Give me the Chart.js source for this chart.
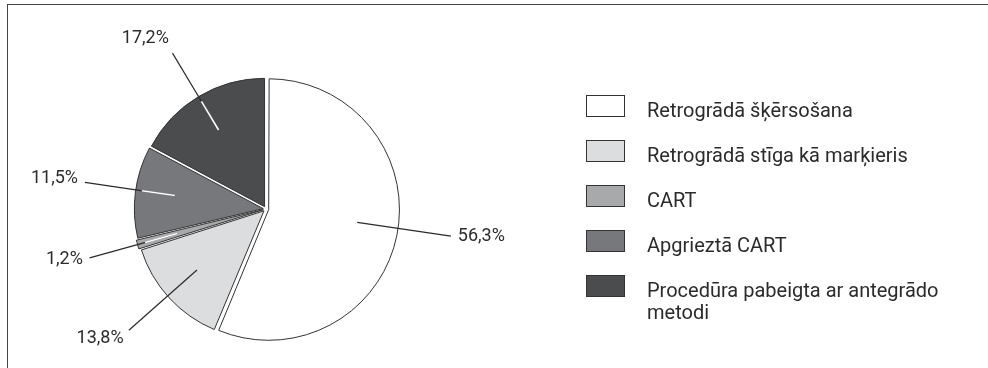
<!DOCTYPE html>
<html>
<head>
<meta charset="utf-8">
<script src="https://cdn.jsdelivr.net/npm/chart.js@4.4.1/dist/chart.umd.min.js"></script>
<style>
    html, body { margin: 0; padding: 0; background: #fff; }
    body { width: 988px; height: 368px; position: relative; overflow: hidden; font-family: Roboto, 'Noto Sans', sans-serif; color: #2b2b2b; }
    .frame { position: absolute; left: 7px; top: 4px; width: 1000px; height: 400px; border-top: 1.5px solid #444; border-left: 1.5px solid #444; }
    #wrap { position: absolute; left: 0; top: 0; width: 988px; height: 368px; }
    #legend { position: absolute; left: 586px; top: 95px; }
    .leg-item { display: flex; align-items: flex-start; height: 45px; }
    .leg-box { width: 37px; height: 20px; border: 1px solid #333; flex: none; }
    .leg-text { margin-left: 22px; margin-top: 4px; font-size: 20px; line-height: 22px; width: 300px; }
</style>
</head>
<body>
<div class="frame"></div>
<div id="wrap"><canvas id="pieChart"></canvas></div>
<div id="legend"></div>
<script>
// ------------------------------------------------------------
// Data
// ------------------------------------------------------------
const categories = [
    'Retrogrādā šķērsošana',
    'Retrogrādā stīga kā marķieris',
    'CART',
    'Apgrieztā CART',
    'Procedūra pabeigta ar antegrādo metodi'
];
const shares = [56.3, 13.8, 1.2, 11.5, 17.2];
const sliceColors = ['#ffffff', '#dcdddf', '#a8a9ab', '#77787b', '#4b4c4e'];

const fmt = v => v.toFixed(1).replace('.', ',') + '%';

// ------------------------------------------------------------
// Legend (html)
// ------------------------------------------------------------
document.getElementById('legend').innerHTML = categories.map((c, i) => `
    <div class="leg-item">
      <div class="leg-box" style="background:${sliceColors[i]}"></div>
      <div class="leg-text">${c}</div>
    </div>
`).join('');

// ------------------------------------------------------------
// Leader lines + value labels
// ------------------------------------------------------------
const leaderLabels = {
    id: 'leaderLabels',
    afterDatasetsDraw(chart, args, opts) {
        const { ctx } = chart;
        const meta = chart.getDatasetMeta(0);
        ctx.save();
        meta.data.forEach((arc, i) => {
            const mid = (arc.startAngle + arc.endAngle) / 2 + (opts.shift[i] || 0) * Math.PI / 180;
            const R = arc.outerRadius;
            const cos = Math.cos(mid), sin = Math.sin(mid);
            const x0 = arc.x + cos * R * opts.inner, y0 = arc.y + sin * R * opts.inner;
            const xe = arc.x + cos * R, ye = arc.y + sin * R;
            const x1 = arc.x + cos * R * opts.outer[i], y1 = arc.y + sin * R * opts.outer[i];

            ctx.lineCap = 'butt';
            ctx.strokeStyle = '#2b2b2b';
            ctx.lineWidth = 1.2;
            ctx.beginPath();
            ctx.moveTo(x0, y0);
            ctx.lineTo(x1, y1);
            ctx.stroke();

            if (opts.whiteInside[i]) {
                ctx.strokeStyle = '#ffffff';
                ctx.lineWidth = 1.6;
                ctx.beginPath();
                ctx.moveTo(x0, y0);
                ctx.lineTo(xe - cos * 2.5, ye - sin * 2.5);
                ctx.stroke();
            }

            ctx.fillStyle = '#2b2b2b';
            ctx.font = '18px Roboto, "Noto Sans", sans-serif';
            ctx.textAlign = cos >= 0 ? 'left' : 'right';
            ctx.textBaseline = 'middle';
            ctx.fillText(fmt(shares[i]), x1 + cos * 7, y1 + sin * 15 - 2);
        });
        ctx.restore();
    }
};

const chart = new Chart(document.getElementById('pieChart'), {
    type: 'pie',
    data: {
        labels: categories,
        datasets: [{
            data: shares,
            backgroundColor: sliceColors,
            borderColor: '#333333',
            borderWidth: 1,
            borderJoinStyle: 'miter',
            offset: 11
        }]
    },
    options: {
        responsive: true,
        maintainAspectRatio: false,
        animation: false,
        layout: {
            padding: { left: 132, right: 588, top: 75, bottom: 25 }
        },
        plugins: {
            legend: { display: false },
            tooltip: { enabled: false },
            leaderLabels: {
                inner: 0.72,
                outer: [1.46, 1.43, 1.43, 1.43, 1.42],
                shift: [-3, 1, 0, 1, 0],
                whiteInside: [false, false, true, true, true]
            }
        }
    },
    plugins: [leaderLabels]
});
</script>
</body>
</html>
